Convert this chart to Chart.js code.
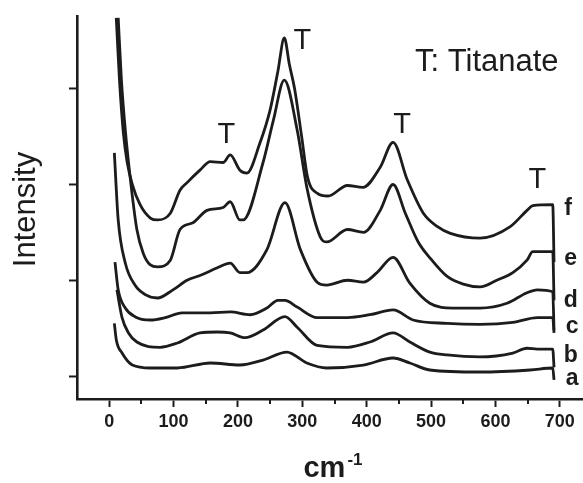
<!DOCTYPE html>
<html><head><meta charset="utf-8">
<script src="https://cdn.jsdelivr.net/npm/chart.js@4"></script>
<style>html,body{margin:0;padding:0;background:#fff}#wrap{width:583px;height:483px}</style>
</head><body><div id="wrap"><canvas id="c" width="583" height="483"></canvas></div>
<script>
// x tick values (cm-1) and y tick values (arbitrary intensity units)
const xTickValues = [0,50,100,150,200,250,300,350,400,450,500,550,600,650,700];
const yTickValues = [0,100,200,300];

// Spectra (wavenumber, intensity), stacked a..f
const f_cm  = [11,16,22,28,36,48,64,75,95,110,121,141,157,177,188,203,214,234,250,262,272,280,288,299,308,323,340,370,394,421,441,463,488,510,530,576,623,649,658,689,691];
const f_int = [374,309,254,223,200,179,165,163,170,194,202,215,224,223,231,215,212,243,278,318,353,325,300,250,208,191,188,199,197,218,244,205,170,156,149,144,156,173,178,179,119];

const e_cm  = [14,19,25,33,43,53,64,75,95,110,130,152,177,188,203,208,239,255,272,292,307,328,338,370,395,421,441,460,480,500,525,550,576,602,627,649,658,689,691];
const e_int = [374,309,257,205,153,128,116,114,121,153,160,173,176,182,163,163,223,267,309,257,197,145,140,153,150,173,200,170,140,122,104,96,93,100,108,121,130,130,79];

const d_cm  = [8,14,25,40,56,75,99,121,141,168,188,203,214,245,273,297,323,338,370,395,416,441,467,498,534,576,618,649,665,689,691];
const d_int = [233,163,118,95,85,81.5,90,100,105,113,118,108,108,132,181,132,98,95,100,98,108,124,97,76,71,71,76,87,90,88,48];

const c_cm  = [9,14,25,40,64,87,113,157,188,219,245,262,273,292,323,370,405,441,472,525,576,627,665,689,691];
const c_int = [119,90,71,62,58.5,61,66,66,67,64,71,79,79,72,61,61,64,69,58.5,55,54,56,61,61,45];

const b_cm  = [12,20,30,43,79,106,141,168,188,211,239,273,292,323,370,405,441,467,498,525,576,627,649,665,689,691];
const b_int = [90,61,45,35.5,30,34.5,45,46,45,40,48,62,51,32,30,35.5,45,35.5,25,22,20,24,29,28,28,9];

const a_cm  = [8,11,20,36,64,106,157,203,239,276,307,338,395,441,467,498,576,654,689,691];
const a_int = [55,38,24,11.5,8.4,8.4,13.6,11.5,16.7,25,13.6,8.4,11.5,18.8,13.6,6.3,4.2,6.3,8.4,-4];

const seriesNames = ['a','b','c','d','e','f'];

// Text annotations (in data coordinates)
const peakLabels = ['T','T','T','T'];
const peakLabelX = [182,300,455,665];
const peakLabelY = [243.5,341.7,254,196.5];
const legendText = 'T: Titanate';
const legendX = 475, legendY = 318.7;
const curveLabelX = [719,717,719,717,717,713];
const curveLabelY = [-9.4,14.6,45,72,116,168];

const xTitle = 'cm', xTitleSup = '-1';
const yTitle = 'Intensity';

const FONT = '"Liberation Sans", Arial, Helvetica, sans-serif';
const INK = '#1c1c1c';

function pts(xs, ys){ return xs.map((x,i)=>({x:x, y:ys[i]})); }
const allCm = [a_cm,b_cm,c_cm,d_cm,e_cm,f_cm];
const allInt = [a_int,b_int,c_int,d_int,e_int,f_int];

const datasets = seriesNames.map((n,i)=>({
  label: n,
  data: pts(allCm[i], allInt[i]),
  borderColor: INK,
  borderWidth: 2.8,
  pointRadius: 0,
  fill: false,
  cubicInterpolationMode: 'monotone',
  clip: false
}));

const textPlugin = {
  id: 'texts',
  afterDraw(chart){
    const ctx = chart.ctx, xs = chart.scales.x, ys = chart.scales.y;
    ctx.save();
    ctx.fillStyle = INK;
    // minor x ticks
    ctx.strokeStyle = INK; ctx.lineWidth = 2;
    xTickValues.forEach(v=>{
      if (v % 100 !== 0){
        const px = Math.round(xs.getPixelForValue(v));
        ctx.beginPath(); ctx.moveTo(px, ys.bottom); ctx.lineTo(px, ys.bottom+5); ctx.stroke();
      }
    });
    // peak labels
    ctx.font = '29px ' + FONT;
    ctx.textAlign = 'center'; ctx.textBaseline = 'alphabetic';
    peakLabels.forEach((t,i)=>{
      ctx.fillText(t, xs.getPixelForValue(peakLabelX[i]), ys.getPixelForValue(peakLabelY[i]));
    });
    // legend text
    ctx.font = '31px ' + FONT;
    ctx.textAlign = 'left';
    ctx.fillText(legendText, xs.getPixelForValue(legendX), ys.getPixelForValue(legendY));
    // curve labels
    ctx.font = 'bold 23px ' + FONT;
    ctx.textAlign = 'center';
    seriesNames.forEach((n,i)=>{
      ctx.fillText(n, xs.getPixelForValue(curveLabelX[i]), ys.getPixelForValue(curveLabelY[i]));
    });
    // x title with superscript
    ctx.font = 'bold 29px ' + FONT;
    ctx.textAlign = 'left';
    const wcm = ctx.measureText(xTitle).width;
    ctx.font = 'bold 17px ' + FONT;
    const wsup = ctx.measureText(xTitleSup).width;
    const cx = (chart.chartArea.left + chart.chartArea.right)/2 + 3;
    const x0 = cx - (wcm + wsup + 2)/2;
    ctx.font = 'bold 29px ' + FONT;
    ctx.fillText(xTitle, x0, 477);
    ctx.font = 'bold 17px ' + FONT;
    ctx.fillText(xTitleSup, x0 + wcm + 2, 465);
    // y title
    ctx.font = '31px ' + FONT;
    ctx.translate(35, (chart.chartArea.top + chart.chartArea.bottom)/2 + 2);
    ctx.rotate(-Math.PI/2);
    ctx.textAlign = 'center';
    ctx.fillText(yTitle, 0, 0);
    ctx.restore();
  }
};

new Chart(document.getElementById('c'), {
  type: 'line',
  data: { datasets },
  options: {
    responsive: false,
    animation: false,
    devicePixelRatio: 1,
    layout: { padding: { top: 16, right: 0, left: 0, bottom: 0 } },
    plugins: { legend: {display:false}, tooltip: {enabled:false} },
    scales: {
      x: {
        type: 'linear', min: -50, max: 736,
        afterBuildTicks: s => { s.ticks = xTickValues.map(v=>({value:v})); },
        afterFit: s => { s.height = 84; },
        ticks: {
          autoSkip: false, maxRotation: 0, padding: 4, color: INK,
          font: { family: FONT, size: 18, weight: 'bold' },
          callback: v => (v % 100 === 0 ? String(v) : '')
        },
        grid: {
          drawOnChartArea: false, drawTicks: true, tickLength: 8, tickWidth: 2,
          color: c => (c.tick && c.tick.value % 100 === 0 ? INK : 'rgba(0,0,0,0)')
        },
        border: { display: true, color: INK, width: 2.6 }
      },
      y: {
        type: 'linear', min: -24, max: 376,
        afterBuildTicks: s => { s.ticks = yTickValues.map(v=>({value:v})); },
        afterFit: s => { s.width = 77; },
        ticks: { display: false },
        grid: { drawOnChartArea: false, drawTicks: true, tickLength: 8, tickWidth: 2, color: INK },
        border: { display: true, color: INK, width: 2.6 }
      }
    }
  },
  plugins: [textPlugin]
});
</script>
</body></html>
